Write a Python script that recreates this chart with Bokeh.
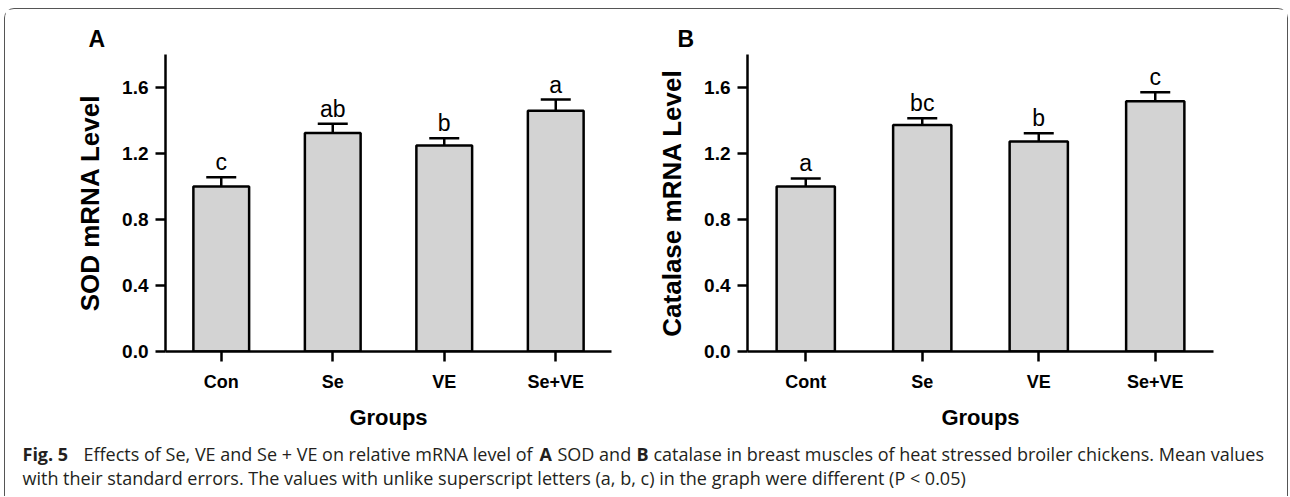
from bokeh.plotting import figure
from bokeh.models import (FactorRange, Range1d, FixedTicker, PrintfTickFormatter,
                          Whisker, TeeHead, ColumnDataSource)
from bokeh.layouts import row, column
from bokeh.embed import file_html
from bokeh.resources import INLINE
from bokeh.core.properties import value

# ---------------- data ----------------
groups_a = ["Con", "Se", "VE", "Se+VE"]
sod_mean = [1.00, 1.325, 1.248, 1.459]
sod_upper = [1.056, 1.38, 1.293, 1.527]
sod_letters = ["c", "ab", "b", "a"]

groups_b = ["Cont", "Se", "VE", "Se+VE"]
cat_mean = [1.00, 1.372, 1.273, 1.517]
cat_upper = [1.049, 1.413, 1.323, 1.571]
cat_letters = ["a", "bc", "b", "c"]

y_ticks = [0.0, 0.4, 0.8, 1.2, 1.6]

FONT = "Liberation Sans"


def panel(groups, means, uppers, letters, ylabel, tag, width, height,
          bl, br, bt, bb, tag_offset, tag_standoff):
    src = ColumnDataSource(dict(x=groups, top=means, upper=uppers, lab=letters))
    p = figure(x_range=FactorRange(*groups, range_padding=0), y_range=Range1d(0, 1.8),
               width=width, height=height, output_backend="svg", toolbar_location=None,
               min_border_left=bl, min_border_right=br, min_border_top=bt,
               min_border_bottom=bb, title=tag)
    p.outline_line_color = None
    p.xgrid.visible = False
    p.ygrid.visible = False
    p.background_fill_color = "white"
    p.border_fill_color = "white"

    p.title.text_font = FONT
    p.title.text_font_style = "bold"
    p.title.text_font_size = "23px"
    p.title.text_color = "black"
    p.title.align = "left"
    p.title.offset = tag_offset
    p.title.standoff = tag_standoff

    p.vbar(x="x", top="top", width=0.5, source=src, fill_color="#d3d3d3",
           line_color="black", line_width=2.5)
    w = Whisker(base="x", upper="upper", lower="top", source=src,
                line_color="black", line_width=2.5,
                upper_head=TeeHead(size=30, line_width=2.5, line_color="black"),
                lower_head=None)
    p.add_layout(w)
    p.text(x="x", y="upper", text="lab", source=src, text_align="center",
           text_baseline="alphabetic", y_offset=-15, text_font=value(FONT),
           text_font_size="23px", text_color="black")

    for ax in (p.xaxis[0], p.yaxis[0]):
        ax.axis_line_width = 2.5
        ax.axis_line_color = "black"
        ax.major_tick_line_width = 2.5
        ax.major_tick_line_color = "black"
        ax.major_tick_in = 0
        ax.major_tick_out = 10
        ax.minor_tick_line_color = None
        ax.major_label_text_font = FONT
        ax.major_label_text_font_style = "bold"
        ax.major_label_text_color = "black"
        ax.axis_label_text_font = FONT
        ax.axis_label_text_font_style = "bold"
        ax.axis_label_text_color = "black"

    p.yaxis.ticker = FixedTicker(ticks=y_ticks)
    p.yaxis.formatter = PrintfTickFormatter(format="%.1f")
    p.yaxis.major_label_text_font_size = "19px"
    p.yaxis.major_label_standoff = 7
    p.yaxis.axis_label = ylabel
    p.yaxis.axis_label_text_font_size = "26px"
    p.yaxis.axis_label_standoff = 14

    p.xaxis.major_label_text_font_size = "18px"
    p.xaxis.major_label_standoff = 10
    p.xaxis.axis_label = "Groups"
    p.xaxis.axis_label_text_font_size = "22px"
    p.xaxis.axis_label_standoff = 10
    return p


pa = panel(groups_a, sod_mean, sod_upper, sod_letters, "SOD mRNA Level", "A",
           636, 427, 160, 30, 45, 85, -77, 5)
pb = panel(groups_b, cat_mean, cat_upper, cat_letters, "Catalase mRNA Level", "B",
           646, 427, 106, 74, 31, 85, -70, 5)

# ---------------- caption ----------------
cap = figure(width=1282, height=60, x_range=Range1d(0, 1282), y_range=Range1d(60, 0),
             output_backend="svg", toolbar_location=None,
             min_border_left=0, min_border_right=0, min_border_top=0, min_border_bottom=0)
cap.axis.visible = False
cap.grid.visible = False
cap.outline_line_color = None

seg_text = ["Fig. 5",
            "Effects of Se, VE and Se + VE on relative mRNA level of",
            "A", "SOD and", "B",
            "catalase in breast muscles of heat stressed broiler chickens. Mean values",
            "with their standard errors. The values with unlike superscript letters (a, b, c) in the graph were different (P < 0.05)"]
seg_bold = [True, False, True, False, True, False, False]
seg_x = [17, 78, 534, 552, 631, 648, 17]
seg_y = [17, 17, 17, 17, 17, 17, 41]
for t, b, sx, sy in zip(seg_text, seg_bold, seg_x, seg_y):
    cap.text(x=[sx], y=[sy], text=[t], text_font=value("Open Sans"),
             text_font_size="18px", text_font_style="bold" if b else "normal",
             text_baseline="middle", text_align="left", text_color="#231f20")

layout = column(row(pa, pb), cap,
                styles={"border-top": "1px solid #555", "border-left": "1px solid #555",
                        "border-right": "1px solid #555",
                        "border-radius": "10px 10px 0 0",
                        "margin-left": "4px", "margin-top": "8px"})

open("out.html", "w").write(file_html(layout, INLINE))
